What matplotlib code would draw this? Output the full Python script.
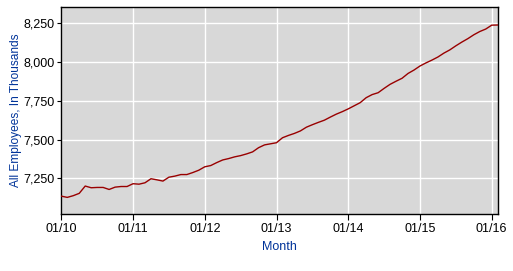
import matplotlib
matplotlib.use("Agg")
import matplotlib.pyplot as plt
import numpy as np

# Monthly values, Jan 2010 .. Feb 2016 (thousands)
employees = [
    7136, 7128, 7139, 7154, 7201, 7190, 7192, 7192, 7179, 7194, 7198, 7198,
    7216, 7213, 7222, 7248, 7241, 7233, 7258, 7265, 7275, 7275, 7288, 7303,
    7325, 7333, 7352, 7369, 7378, 7389, 7397, 7408, 7421, 7448, 7466, 7473,
    7480, 7512, 7527, 7540, 7556, 7580, 7596, 7611, 7625, 7645, 7664, 7680,
    7698, 7718, 7738, 7770, 7790, 7802, 7830, 7856, 7876, 7895, 7926, 7948,
    7974, 7994, 8012, 8032, 8057, 8078, 8104, 8128, 8150, 8175, 8196, 8212,
    8237, 8238,
]
x_tick_labels = ["01/10", "01/11", "01/12", "01/13", "01/14", "01/15", "01/16"]
y_ticks = [7250, 7500, 7750, 8000, 8250]

months = np.arange(len(employees))

plt.rcParams['font.family'] = ['Liberation Sans', 'DejaVu Sans']

fig = plt.figure(figsize=(5.13, 2.71), dpi=100)
W, H = 513, 271
left, right, top, bottom = 61.3, 497.7, 7.3, 214.0
ax = fig.add_axes([left / W, 1 - bottom / H, (right - left) / W, (bottom - top) / H])

ax.set_facecolor('#D8D8D8')
ax.plot(months, employees, color='#990000', linewidth=1.0, zorder=3)

ax.set_xlim(0, 73)
ax.set_ylim(7021, 8352)

ax.set_xticks(np.arange(0, 73, 12))
ax.set_xticklabels(x_tick_labels)
ax.set_yticks(y_ticks)
ax.set_yticklabels([f"{v:,}" for v in y_ticks])

ax.grid(True, color='white', linewidth=1.0)
ax.set_axisbelow(True)

ax.tick_params(axis='x', length=4.3, width=0.8, pad=2.5, labelsize=9, colors='black')
ax.tick_params(axis='y', length=3.0, width=0.8, pad=1.5, labelsize=9, colors='black')

for s in ax.spines.values():
    s.set_color('black')
    s.set_linewidth(1.0)

ax.set_xlabel('Month', color='#003399', fontsize=9, labelpad=4)
ax.set_ylabel('All Employees, In Thousands', color='#003399', fontsize=8.6, labelpad=1)

fig.savefig('out.png', dpi=100, facecolor='white')
